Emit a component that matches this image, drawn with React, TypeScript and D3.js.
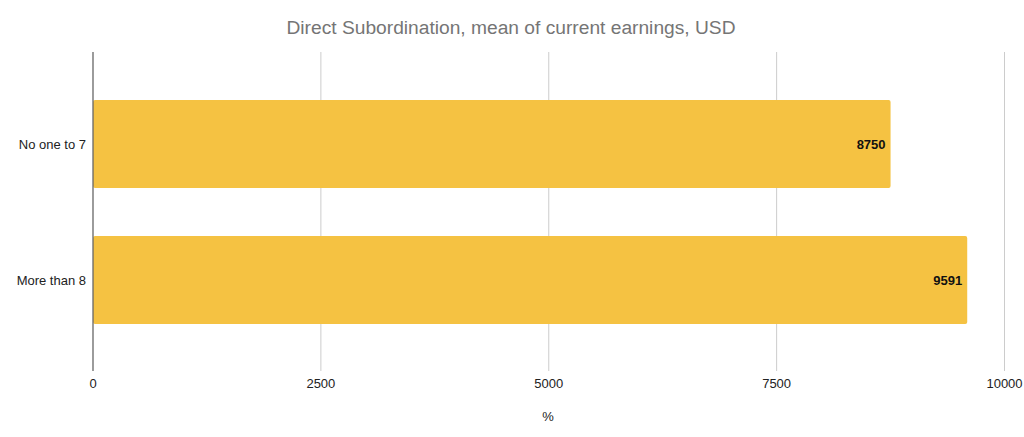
import React from "react";
import * as d3 from "d3";

const categories = ["No one to 7", "More than 8"];
const values = [8750, 9591];
const xTicks = [0, 2500, 5000, 7500, 10000];
const title = "Direct Subordination, mean of current earnings, USD";
const xAxisTitle = "%";

const W = 1024;
const H = 437;
const FONT = "Arial, 'Liberation Sans', Helvetica, sans-serif";

export default function App() {
  const x = d3.scaleLinear().domain([0, 10000]).range([93, 1004.5]);
  const y = d3
    .scaleBand<string>()
    .domain(categories)
    .range([76, 348])
    .paddingInner(0.353)
    .paddingOuter(0.1765);
  const plotTop = 52;
  const plotBottom = 371;

  return (
    <svg
      width={W}
      height={H}
      style={{ position: "absolute", left: 0, top: 0, background: "#fff" }}
      fontFamily={FONT}
    >
      <text x={511} y={34} textAnchor="middle" fontSize={19.2} fill="#757575">
        {title}
      </text>
      {xTicks.map((t) => (
        <g key={t}>
          {t !== 0 && (
            <line
              x1={x(t)}
              x2={x(t)}
              y1={plotTop}
              y2={plotBottom}
              stroke="#cccccc"
              strokeWidth={1}
            />
          )}
          <text x={x(t)} y={388} textAnchor="middle" fontSize={13} fill="#222">
            {t}
          </text>
        </g>
      ))}
      {categories.map((c, i) => (
        <g key={c}>
          <rect
            x={x(0)}
            y={y(c)!}
            width={x(values[i]) - x(0)}
            height={y.bandwidth()}
            rx={2}
            fill="#F5C242"
          />
          <text
            x={x(values[i]) - 5}
            y={y(c)! + y.bandwidth() / 2 + 4.5}
            textAnchor="end"
            fontSize={13}
            fontWeight="bold"
            fill="#111"
          >
            {values[i]}
          </text>
          <text
            x={86}
            y={y(c)! + y.bandwidth() / 2 + 4.5}
            textAnchor="end"
            fontSize={13}
            fill="#222"
          >
            {c}
          </text>
        </g>
      ))}
      <line
        x1={x(0)}
        x2={x(0)}
        y1={plotTop}
        y2={plotBottom}
        stroke="#666666"
        strokeWidth={1.3}
      />
      <text x={548} y={421} textAnchor="middle" fontSize={13} fill="#222">
        {xAxisTitle}
      </text>
    </svg>
  );
}
